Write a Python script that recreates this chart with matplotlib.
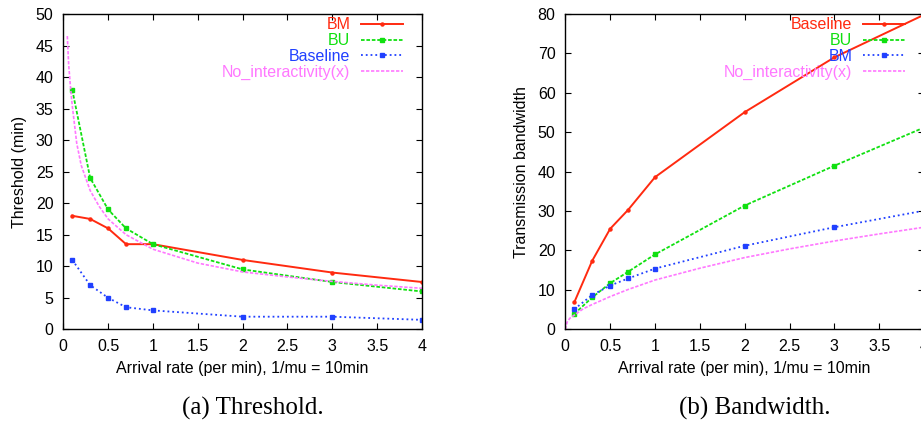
import numpy as np
import matplotlib
matplotlib.use('Agg')
import matplotlib.pyplot as plt

plt.rcParams['font.family'] = ['Liberation Sans', 'DejaVu Sans']

# arrival rates (per min)
rate = [0.1, 0.3, 0.5, 0.7, 1, 2, 3, 4]

# (a) threshold (min)
thr_bm = [18, 17.5, 16, 13.5, 13.5, 11, 9, 7.5]
thr_bu = [38, 24, 19, 16, 13.5, 9.5, 7.5, 6]
thr_base = [11, 7, 5, 3.5, 3, 2, 2, 1.5]
# No_interactivity(x) curve
thr_noint_x = [0.045, 0.06, 0.08, 0.1, 0.15, 0.2, 0.3, 0.4, 0.5, 0.7, 1, 1.5, 2, 2.5, 3, 3.5, 4]
thr_noint_y = [46.5, 42, 38.5, 35.5, 29.5, 26, 22, 19.5, 17.5, 15, 12.7, 10.5, 9.1, 8.3, 7.6, 7.0, 6.5]

# (b) transmission bandwidth
bw_base = [6.85, 17.4, 25.5, 30.3, 38.6, 55.1, 69.0, 79.8]
bw_bu = [3.9, 8.1, 11.7, 14.6, 19.0, 31.4, 41.5, 51.2]
bw_bm = [5.1, 8.7, 11.1, 12.9, 15.4, 21.2, 25.9, 30.1]
bw_noint_x = [0, 0.02, 0.05, 0.1, 0.2, 0.3, 0.5, 0.7, 1, 1.5, 2, 2.5, 3, 3.5, 4]
bw_noint_y = [0, 1.8, 2.8, 3.6, 5.2, 6.3, 8.3, 10.1, 12.5, 15.5, 18.2, 20.4, 22.4, 24.2, 25.9]

RED = '#ff2a10'
GREEN = '#10e010'
BLUE = '#2040ff'
PINK = '#ff78ff'

xlabel = 'Arrival rate (per min), 1/mu = 10min'
fs = 11.5

fig = plt.figure(figsize=(9.21, 4.23), dpi=100)
ax1 = fig.add_axes([0.0687, 0.2215, 0.3895, 0.7454])
ax2 = fig.add_axes([0.6138, 0.2215, 0.3895, 0.7454])


def style(ax, ymax, ystep, ylabel):
    ax.set_xlim(0, 4)
    ax.set_ylim(0, ymax)
    ax.set_xticks(np.arange(0, 4.01, 0.5))
    ax.set_xticklabels(['0', '0.5', '1', '1.5', '2', '2.5', '3', '3.5', '4'])
    ax.set_yticks(np.arange(0, ymax + 0.1, ystep))
    ax.tick_params(direction='in', top=True, right=True, length=4, width=0.8,
                   labelsize=fs, pad=7)
    for s in ax.spines.values():
        s.set_linewidth(1.0)
    ax.set_xlabel(xlabel, fontsize=fs, labelpad=5)
    ax.set_ylabel(ylabel, fontsize=fs, labelpad=6)


# (a)
ax1.plot(rate, thr_bm, '-', color=RED, lw=1.4, marker='o', ms=2.2, label='BM')
ax1.plot(rate, thr_bu, '--', color=GREEN, lw=1.3, dashes=(2, 1), marker='s', ms=3.2, label='BU')
ax1.plot(rate, thr_base, ':', color=BLUE, lw=1.3, marker='s', ms=3.2, label='Baseline')
ax1.plot(thr_noint_x, thr_noint_y, '--', color=PINK, lw=1.2, dashes=(2, 1), label='No_interactivity(x)')
style(ax1, 50, 5, 'Threshold (min)')

# (b)
ax2.plot(rate, bw_base, '-', color=RED, lw=1.4, marker='o', ms=2.2, label='Baseline', clip_on=False)
ax2.plot(rate, bw_bu, '--', color=GREEN, lw=1.3, dashes=(2, 1), marker='s', ms=3.2, label='BU')
ax2.plot(rate, bw_bm, ':', color=BLUE, lw=1.3, marker='s', ms=3.2, label='BM')
ax2.plot(bw_noint_x, bw_noint_y, '--', color=PINK, lw=1.2, dashes=(2, 1), label='No_interactivity(x)')
style(ax2, 80, 10, 'Transmission bandwidth')

for ax in (ax1, ax2):
    leg = ax.legend(loc='upper right', bbox_to_anchor=(0.947, 0.989), frameon=False,
                    markerfirst=False, labelcolor='linecolor', fontsize=fs,
                    handlelength=2.6, handletextpad=0.7, labelspacing=0.05,
                    borderpad=0, borderaxespad=0, numpoints=1)

fig.text(0.2747, 0.02, '(a) Threshold.', ha='center', va='baseline',
         fontsize=18, family='Liberation Serif')
fig.text(0.8198, 0.02, '(b) Bandwidth.', ha='center', va='baseline',
         fontsize=18, family='Liberation Serif')

fig.savefig('out.png', dpi=100)
